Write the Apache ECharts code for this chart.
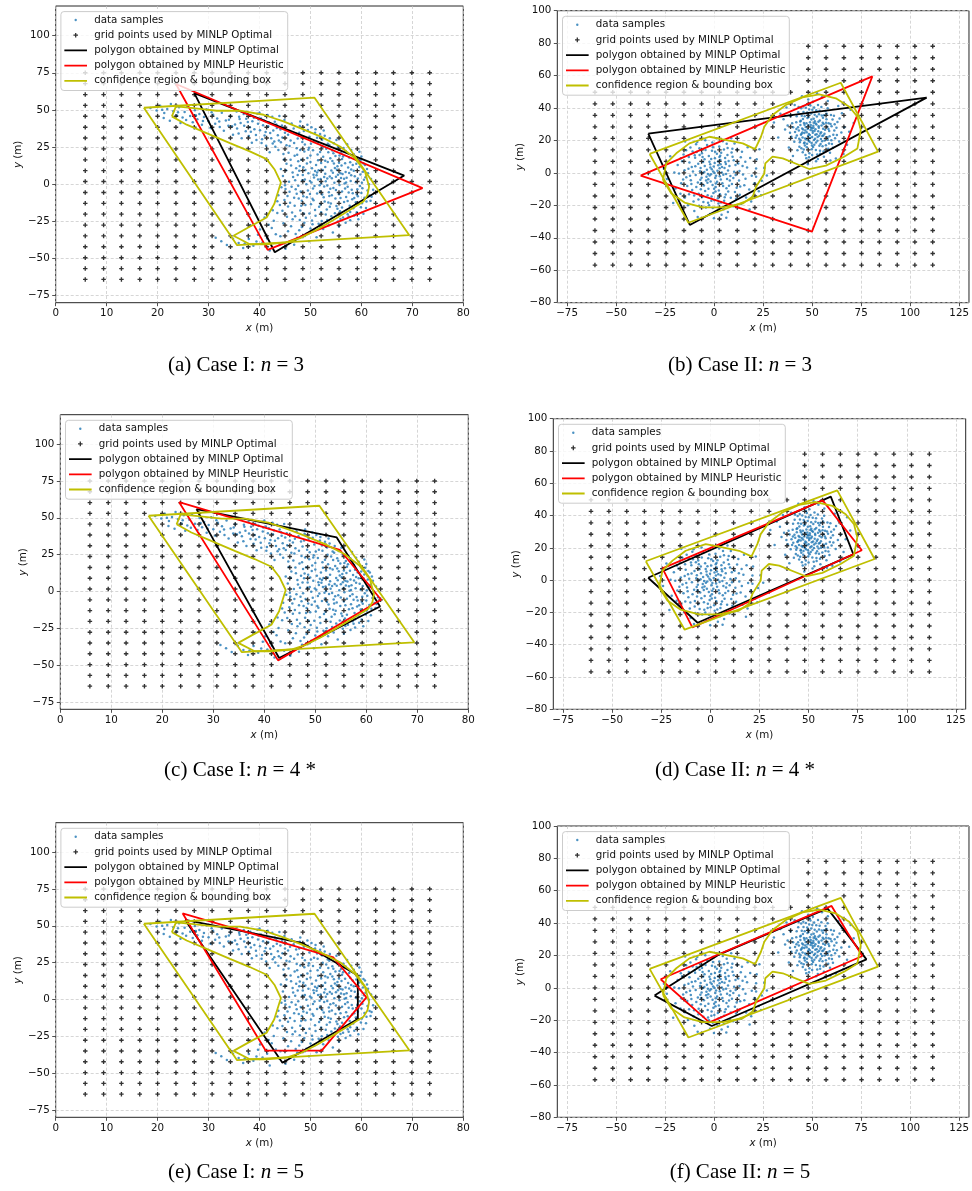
<!DOCTYPE html>
<html>
<head>
<meta charset="utf-8">
<script src="https://cdn.jsdelivr.net/npm/echarts@6/dist/echarts.min.js"></script>
<style>
html,body{margin:0;padding:0;background:#fff;}
#chart{width:972px;height:1191px;}
</style>
</head>
<body>
<div id="chart"></div>
<script>
// ---------- Case I: data samples (m) ----------
const samplesCaseI = [
[18.6,51.2],[19.8,49.5],[20.5,52.8],[21.3,47.9],[21.9,50.6],[22.6,53.9],[23.1,49.1],[23.8,46.2],[24.2,51.7],[24.9,44.8],
[25.3,48.6],[25.8,52.3],[26.4,45.9],[26.9,41.7],[27.3,49.8],[27.8,43.6],[28.2,47.2],[28.7,39.9],[29.1,45.1],[29.6,50.4],
[30.0,42.3],[30.4,37.8],[30.9,46.7],[31.3,40.6],[31.7,44.2],[32.2,38.4],[32.6,48.1],[33.0,35.9],[33.4,42.8],[33.9,39.3],
[22.4,42.6],[24.5,41.2],[21.2,44.5],[35.5,48.9],[39.6,47.3],
[34.3,45.6],[34.8,33.2],[35.2,40.1],[35.6,37.4],[36.1,43.9],[36.5,30.8],[36.9,47.2],[37.3,35.6],[37.7,41.8],[38.1,38.3],
[38.5,27.9],[38.9,44.6],[39.3,33.1],[39.7,40.7],[40.1,36.2],[40.5,30.1],[40.9,42.9],[41.3,25.8],[41.7,38.9],[42.1,34.4],
[42.5,45.3],[42.9,28.6],[43.3,40.2],[43.7,22.9],[44.1,36.7],[44.5,31.4],[44.9,43.1],[45.3,26.2],[34.6,38.9],[35.9,34.1],
[37.0,39.3],[38.2,46.0],[39.4,29.6],[40.3,44.1],[41.0,32.7],[41.9,41.4],[42.7,36.1],[43.6,32.8],[44.4,39.5],[36.3,41.2],
[37.9,32.4],[39.0,37.0],[40.7,39.6],[42.3,30.9],[43.9,45.8],[45.0,34.6],[38.6,42.3],[40.0,48.1],[41.6,46.6],[43.1,25.1],
[46.2,12.4],[47.1,-3.6],[47.8,8.9],[48.3,-11.2],[48.9,3.1],[49.4,17.6],[49.9,-6.8],[50.3,10.7],[50.8,-1.4],[51.2,5.9],
[51.7,-15.3],[52.1,14.2],[52.6,-8.9],[53.0,1.8],[53.5,21.4],[53.9,-3.2],[54.4,7.6],[54.8,-19.7],[55.3,11.9],[55.7,-0.6],
[56.2,16.8],[56.6,-12.1],[57.1,4.3],[57.5,-5.7],[58.0,9.8],[58.4,-16.4],[58.9,1.2],[59.3,-8.3],[59.8,6.4],[60.2,-2.9],
[45.5,-8.1],[46.6,4.7],[47.4,19.8],[48.0,-17.9],[48.6,11.3],[49.2,-0.2],[49.7,24.5],[50.1,-13.6],[50.6,6.3],[51.0,-21.4],
[51.5,16.1],[51.9,-4.8],[52.4,9.4],[52.8,-11.7],[53.3,3.7],[53.7,26.3],[54.2,-7.5],[54.6,13.8],[55.1,-14.9],[55.5,2.2],
[56.0,20.7],[56.4,-22.6],[56.9,8.1],[57.3,-1.9],[57.8,14.7],[58.2,-10.2],[58.7,5.3],[59.1,-19.1],[59.6,11.5],[60.0,-6.1],
[60.5,2.9],[61.0,-11.8],[45.8,1.6],[46.9,-14.7],[47.6,15.3],[48.1,-5.1],[48.8,21.9],[49.6,7.2],[50.4,-9.9],[51.1,12.8],
[51.8,-0.9],[52.5,18.4],[53.2,-17.2],[53.8,5.1],[54.5,-2.6],[55.2,9.6],[55.9,-9.4],[56.7,0.4],[57.4,11.1],[58.1,-3.8],
[58.8,17.2],[59.5,-13.4],[60.3,8.2],[61.2,-4.4],[46.4,-19.2],[47.3,24.1],[48.4,28.3],[49.1,-22.8],[50.0,19.3],[50.9,-17.5],
[51.4,27.7],[52.2,-24.9],[53.1,23.8],[54.0,-13.1],[54.9,18.9],[55.8,-18.3],[56.5,24.2],[57.7,-14.6],[58.5,20.1],[59.4,-23.7],
[60.7,12.9],[61.5,-0.2],[45.2,9.3],[46.0,-12.6],[47.0,2.5],[47.9,-24.3],[48.5,6.1],[49.3,13.9],[50.2,1.1],[51.3,-6.4],
[52.0,3.3],[52.9,11.4],[53.6,-5.5],[54.3,15.6],[55.0,4.9],[55.6,-6.9],[56.3,6.8],[57.0,-8.7],[57.9,2.1],[58.6,-21.2],
[59.9,-15.7],[60.6,-9.2],[44.8,16.6],[45.1,-3.4],[44.6,5.4],[45.7,21.1],[46.8,27.6],[47.7,-9.8],[48.2,16.4],[49.0,-14.1],
[50.5,22.8],[51.6,-26.7],[52.7,-1.7],[53.4,14.9],[54.1,-21.8],[54.7,0.9],[55.4,-25.3],[56.1,12.5],[56.8,-3.1],[57.6,7.4],
[58.3,-6.2],[59.0,13.6],[59.7,-1.3],[60.8,4.6],[61.6,-7.8],
[46.5,7.8],[47.6,-1.2],[48.4,2.6],[49.5,-4.3],[50.7,4.4],[51.6,9.2],[52.3,-7.1],[53.3,-1.0],[54.2,3.9],[55.0,-4.1],
[55.9,7.3],[56.6,3.5],[57.3,-11.4],[58.0,5.9],[59.2,-3.6],[60.1,0.8],[49.8,-19.8],[51.9,21.6],[53.9,17.3],[56.2,-15.8],
[47.2,10.6],[50.0,14.9],[52.9,7.0],[54.8,10.8],[57.6,17.9],[58.9,-12.3],[48.6,-8.2],[45.9,-5.2],[46.1,16.3],[61.9,3.4],
[62.3,-3.9],[60.9,-16.1],[50.3,-24.6],[53.0,-20.6],[55.7,19.3],[59.6,21.7],[48.8,-26.1],[44.9,-10.8],[47.0,-21.7],[52.1,0.3],
[45.6,33.2],[46.7,37.4],[47.5,30.6],[48.7,35.8],[49.8,31.9],[50.7,28.4],[51.9,33.7],[52.3,29.8],[53.8,30.9],[54.6,27.5],
[55.4,24.9],[56.9,22.3],[57.2,26.8],[46.3,40.8],[47.9,39.1],[49.5,36.4],[50.9,34.6],[52.8,32.5],[44.2,28.1],[45.9,25.7],
[47.2,33.9],[48.9,26.6],[51.3,31.2],[43.4,37.8],[42.6,27.3],[46.1,29.4],[48.0,42.1],[50.2,38.3],
[44.7,-26.4],[45.6,-31.8],[46.5,-23.7],[47.4,-36.2],[48.3,-28.9],[49.2,-33.5],[50.4,-27.1],[51.2,-35.8],[52.5,-30.4],[53.6,-27.8],
[54.4,-32.6],[55.6,-28.7],[56.9,-26.1],[57.8,-24.5],[43.2,-33.9],[42.4,-29.7],[41.5,-36.8],[40.6,-39.4],[39.7,-34.2],[38.8,-41.6],
[37.9,-37.1],[36.8,-43.2],[35.9,-39.8],[34.8,-36.9],[33.6,-41.1],[32.5,-38.6],[31.4,-36.3],[42.0,-44.8],[40.1,-30.6],[43.9,-40.3],
[45.1,-43.6],[46.8,-40.9],[38.2,-27.8],[41.0,-22.5],[43.5,-19.6],[42.8,-24.8],[44.0,-14.2],[43.7,-7.6],[44.3,-2.2],[45.4,-22.1],
[46.2,-28.4],[47.8,-31.2],[49.7,-38.6],[50.8,-31.1],
[46.3,-1.9],[47.5,6.0],[48.2,-14.6],[49.0,9.5],[49.9,2.0],[50.6,-11.0],[51.4,19.9],[52.1,-19.0],[52.7,4.8],[53.5,-12.4],
[54.1,9.1],[54.9,-9.8],[55.6,14.3],[56.2,-5.0],[57.0,1.0],[57.8,-18.8],[58.5,9.0],[59.3,3.7],[60.1,-12.9],[61.3,7.2],
[45.3,13.6],[46.8,-9.3],[47.9,12.2],[48.7,-19.9],[49.6,23.1],[50.5,-3.1],[51.3,7.8],[52.0,-13.8],[52.9,15.7],[53.7,-8.1],
[54.5,20.8],[55.3,-16.6],[56.0,4.0],[56.8,14.0],[57.5,-21.9],[58.3,12.8],[59.1,-7.0],[59.8,16.1],[60.4,-20.1],[61.8,-11.3],
[44.5,-18.1],[45.6,-15.1],[46.9,19.0],[48.0,23.0],[50.1,27.1],[52.4,25.0],[54.3,22.6],[56.4,18.5],[58.0,22.9],[60.0,18.6],
[46.0,35.7],[47.8,34.6],[49.4,40.0],[51.0,36.9],[52.6,36.0],[53.4,27.2],[55.1,29.7],[43.0,42.0],[41.2,35.0],[39.8,43.5],
[37.4,44.0],[36.0,45.3],[34.0,43.4],[32.1,42.1],[30.6,48.3],[28.9,42.5],[27.5,46.4],[25.6,43.2],[24.0,48.4],[20.9,50.1],
[38.3,35.2],[40.4,27.7],[42.0,21.4],[43.8,29.4],[44.7,20.3],[45.0,-0.8],[44.2,10.1],[43.5,-11.6],[42.6,-17.6],[41.8,-27.5],
[39.4,-38.7],[37.1,-40.1],[44.1,-35.2],[47.1,-33.7],[48.9,-35.1],[50.0,-29.9],[51.8,-28.2],[53.3,-24.2],[55.9,-23.5],[57.3,-20.3],
[61.1,10.2],[60.4,13.9],[62.0,-8.5],[58.6,-9.4],[50.9,8.7],[49.3,-9.0],[53.8,-15.4],[47.3,-6.6],[55.4,6.2],[51.5,3.0]
];

// ---------- Case II: data samples (m) ----------
const samplesCaseII = [
[-1.2,2.3],[3.4,-4.1],[-5.6,6.8],[7.1,1.5],[0.8,-8.7],[-3.9,-2.4],[5.6,9.2],[-8.3,-5.9],[2.1,4.7],[-0.4,-12.3],
[9.8,-3.2],[-11.4,3.6],[4.7,-1.1],[-2.7,10.4],[1.9,-15.6],[-6.8,-10.1],[12.3,5.8],[-14.2,-2.7],[6.3,-9.4],[-4.4,14.1],
[8.9,12.6],[-9.7,9.3],[0.3,6.1],[-1.8,-5.3],[3.9,0.2],[-7.2,1.1],[10.6,-11.7],[-12.8,-13.2],[2.6,16.3],[-3.1,-18.4],
[14.7,-0.9],[-16.3,7.2],[5.1,-17.2],[-0.9,18.7],[11.2,-15.9],[-10.5,-17.6],[7.8,4.2],[-5.2,-7.7],[1.4,11.8],[-2.3,-1.6],
[4.2,-6.3],[-8.9,12.9],[13.6,9.7],[-13.7,-8.1],[6.9,15.4],[-6.1,-14.8],[0.6,-3.2],[-4.8,4.3],[9.1,-6.8],[-11.9,-4.5],
[3.2,7.9],[-0.7,-21.6],[16.8,3.4],[-17.9,-0.3],[5.9,-13.3],[-3.6,17.2],[10.2,0.7],[-9.4,-1.3],[2.4,-10.9],[-1.5,8.6],
[15.4,-7.6],[-15.6,11.4],[8.1,-19.8],[-7.7,-20.3],[4.4,19.6],[-5.9,9.8],[11.8,14.3],[-12.1,15.7],[0.1,-16.8],[-2.9,-9.8],
[6.6,-3.7],[-8.1,5.6],[1.7,1.4],[-4.1,-4.6],[3.6,12.4],[-10.8,0.9],[13.1,-13.4],[-14.9,-15.1],[7.4,7.3],[-6.4,-2.9],
[0.9,-6.5],[-1.1,13.6],[9.4,9.9],[-9.1,-8.7],[17.9,-10.2],[-18.6,4.9],[5.3,3.1],[-3.3,-13.7],[2.9,-2.1],[-0.2,4.0],
[12.7,-4.7],[-7.5,15.2],[4.9,-22.4],[-11.2,-10.6],[8.5,-15.3],[-5.5,-17.9],[1.2,21.3],[-2.1,-25.3],[15.9,6.9],[-16.8,-6.4],
[6.1,-0.6],[-6.9,3.0],[3.0,-13.1],[-1.6,-0.8],[10.9,4.9],[-12.6,6.5],[0.4,9.1],[-4.6,-11.2],[7.6,-7.9],[-9.9,10.9],
[19.2,-1.8],[-19.7,-9.6],[2.2,-18.9],[-3.7,1.9],[14.2,13.1],[-13.4,-19.9],[5.7,6.7],[-7.9,-12.9],[1.0,-1.7],[-0.6,15.9],
[9.7,-20.6],[-10.1,-23.4],[4.0,3.6],[-5.0,0.5],[11.5,-9.1],[-8.6,19.1],[3.8,-25.8],[-2.4,6.9],[6.8,11.0],[-6.2,12.2],
[16.3,-15.2],[-15.1,1.7],[0.7,-11.4],[-1.9,3.3],[8.3,-1.9],[-11.6,-6.9],[2.7,9.8],[-4.2,-21.3],[12.9,1.2],[-14.3,13.9],
[7.2,-11.5],[-3.4,-6.1],[18.4,9.2],[-20.3,0.2],[5.0,14.5],[-7.0,-4.2],[0.2,-0.1],[-1.3,-14.6],[20.6,-6.3],[-17.2,-12.8],
[10.4,18.1],[-9.2,17.6],[3.3,5.4],[-0.1,-27.9],[-12.9,9.8],[13.8,-19.1],[21.4,2.8],
[-22.4,10.3],[-24.1,-3.7],[-20.9,-18.5],[18.1,-22.6],[-8.4,-27.2],[6.2,-27.6],[-14.8,19.4],[8.7,21.4],[-25.6,2.6],[23.9,-13.7],
[22.8,-11.3],[24.3,-4.8],[18.9,-17.6],[21.7,8.4],[25.6,3.1],[17.1,15.8],[23.1,14.6],[26.9,-1.6],[19.7,-14.6],[21.4,-2.3],
[-0.5,0.9],[2.8,2.9],[-3.2,-0.6],[1.5,-5.4],[-2.0,5.3],[4.6,-8.1],[-6.6,-6.3],[6.0,5.5],[-4.9,8.4],[0.0,-9.8],
[8.0,-4.6],[-9.6,4.1],[3.1,10.6],[-1.4,-17.2],[11.0,-1.3],[-12.3,-1.8],[5.4,-15.0],[-7.4,11.1],[9.3,14.9],[-10.2,-13.9],
[1.8,-23.5],[-4.5,20.2],[13.3,-8.3],[-15.8,-4.1],[7.0,-24.1],[-8.0,-16.4],[14.5,4.3],[-13.1,2.5],[-2.6,-20.0],[0.5,13.0],
[10.0,7.8],[-6.0,-0.2],[3.5,-18.2],[-11.0,13.2],[16.0,-3.6],[-17.0,9.0],[6.4,18.0],[-3.0,-3.9],[2.0,7.0],[-0.8,-7.4],
[49.2,26.4],[52.8,22.1],[46.1,29.7],[55.6,27.3],[48.7,19.2],[51.4,31.8],[44.3,23.6],[57.9,20.4],[50.3,24.8],[47.6,33.9],
[53.7,16.7],[42.8,28.1],[59.4,30.2],[45.9,18.3],[54.9,35.4],[49.8,14.6],[56.3,24.1],[41.6,21.7],[52.1,38.6],[47.2,25.1],
[60.8,23.6],[44.7,35.2],[50.9,20.3],[48.1,29.4],[58.2,14.9],[43.5,16.2],[53.3,28.7],[46.8,40.1],[55.1,19.6],[51.7,26.9],
[39.8,30.6],[62.4,27.8],[49.5,36.7],[45.2,12.8],[57.3,33.1],[52.6,11.4],[47.9,22.7],[54.2,24.3],[42.1,34.9],[60.1,17.8],
[50.6,29.1],[44.9,27.4],[56.8,38.2],[48.4,9.7],[53.9,32.3],[46.4,21.2],[58.7,25.9],[41.3,25.3],[51.1,17.4],[49.1,41.6],
[55.8,13.2],[43.9,31.7],[61.7,21.4],[47.3,15.8],[52.4,34.8],[45.6,37.6],[59.6,35.7],[50.0,22.2],[54.5,20.9],[48.9,31.3],
[38.7,24.8],[63.8,19.3],[46.0,24.6],[57.6,28.4],[52.9,8.6],[44.1,20.1],[55.4,31.0],[50.4,43.9],[42.5,13.9],[60.4,32.9],
[48.3,24.0],[53.1,25.7],[46.7,28.3],[51.9,14.1],[57.0,17.1],[45.3,33.3],[49.7,18.5],[54.7,40.6],[40.9,19.2],[58.9,22.6],
[47.5,37.3],[52.2,29.9],[43.2,26.2],[56.0,9.9],[50.8,33.4],[44.4,39.8],[61.3,26.2],[48.6,12.1],[53.5,36.1],[46.3,16.9],
[55.2,22.7],[49.4,28.0],[42.9,37.4],[59.1,12.4],[51.6,23.5],[45.8,30.8],[57.4,36.4],[47.0,20.6],[54.0,13.7],[50.1,38.9],
[37.5,29.3],[64.9,24.9],[52.7,19.9],[44.6,24.1],[58.4,30.6],[48.0,45.2],[53.6,22.9],[46.6,11.1],[55.5,34.0],[49.9,27.6],
[41.9,31.2],[60.6,15.5],[51.3,35.9],[45.1,21.8],[56.6,26.6],[48.2,34.5],[54.3,17.9],[43.7,18.9],[59.9,28.8],[50.5,16.0],
[47.7,27.0],[53.0,41.9],[45.4,26.8],[57.7,22.0],[51.8,30.5],[39.4,22.3],[62.9,31.4],[49.0,21.6],[54.8,29.3],[46.2,35.0],
[52.0,7.2],[44.0,29.6],[58.6,18.1],[50.7,27.8],[48.5,39.1],[55.9,30.1],[42.2,23.1],[61.1,35.3],[47.4,18.0],[53.2,31.6],
[45.7,14.5],[56.4,20.0],[49.6,33.0],[51.2,25.9],[66.4,28.1],[36.2,26.7],[67.8,17.4],[65.2,36.8],[35.4,33.1],[38.1,15.7],
[63.3,41.2],[41.1,41.8],[58.0,44.3],[44.8,47.3],[52.5,49.1],[33.8,36.4],[68.9,25.4],[66.0,11.6],[40.2,10.4],[59.3,7.6],
[47.8,5.3],[36.9,40.3],[71.2,30.7],[62.1,8.9],[55.0,46.7],[30.5,31.1],[32.7,21.8],[69.6,38.9],
[50.2,26.0],[48.8,23.3],[51.5,21.0],[47.1,30.6],[53.4,27.9],[46.5,26.1],[52.3,23.9],[49.3,29.5],[54.6,25.1],[45.0,24.9],
[50.9,31.0],[48.2,19.9],[55.7,23.0],[47.9,36.0],[52.0,18.7],[44.2,32.2],[57.1,30.9],[49.9,16.9],[43.4,21.0],[56.1,35.6],
[51.0,40.4],[46.1,18.7],[58.3,27.1],[42.0,27.0],[53.8,38.3],[48.7,42.8],[59.8,20.2],[45.5,40.9],[54.1,11.8],[62.6,23.3],
[40.3,28.2],[50.0,11.0],[57.9,39.9],[44.5,15.2],[61.5,30.0],[47.0,9.0],[39.0,34.9],[64.0,33.6],[55.3,16.4],[43.1,40.7]
];

// ---------- grid points used by MINLP Optimal ----------
const gridXCaseI = [5.8, 9.4, 12.9, 16.5, 20.0, 23.6, 27.2, 30.7, 34.3, 37.8, 41.4, 45.0, 48.5, 52.1, 55.6, 59.2, 62.8, 66.3, 69.9, 73.4];
const gridYCaseI = [75.0, 67.7, 60.3, 53.0, 45.7, 38.3, 31.0, 23.7, 16.3, 9.0, 1.7, -5.7, -13.0, -20.3, -27.7, -35.0, -42.3, -49.7, -57.0, -64.3];
const gridXCaseII = [-60.8, -51.7, -42.6, -33.6, -24.5, -15.4, -6.4, 2.7, 11.8, 20.8, 29.9, 39.0, 48.0, 57.1, 66.2, 75.2, 84.3, 93.4, 102.4, 111.5];
const gridYCaseIILower = [49.7, 42.6, 35.5, 28.4, 21.3, 14.2, 7.1, 0.0, -7.1, -14.2, -21.3, -28.4, -35.5, -42.6, -49.7, -56.8];
const gridXCaseIIUpper = [48.0, 57.1, 66.2, 75.2, 84.3, 93.4, 102.4, 111.5];
const gridYCaseIIUpper = [78.1, 71.0, 63.9, 56.8];

// ---------- confidence regions and bounding boxes ----------
const confidenceCaseI = [[22.8,45.6],[23.6,52.3],[27.0,51.2],[31.6,49.4],[36.2,49.4],[40.8,46.7],[44.7,42.2],[48.0,37.7],[51.9,32.1],[55.8,25.3],[58.7,17.5],[60.7,8.5],[61.5,-1.7],[61.2,-7.3],[60.4,-11.8],[57.8,-17.4],[54.5,-24.2],[51.2,-30.9],[48.0,-36.5],[45.3,-39.4],[41.4,-40.6],[38.1,-40.6],[34.9,-34.9],[37.8,-29.3],[41.4,-22.6],[42.9,-13.4],[44.2,1.0],[43.0,9.6],[41.4,16.8],[38.1,22.0],[34.2,27.6],[29.6,34.3],[25.7,40.0],[22.8,45.6]];
const boxCaseI = [[17.3,51.4],[50.8,58.2],[69.4,-34.5],[35.6,-41.2],[17.3,51.4]];
const confidenceCaseII = [[-26.1,-4.4],[-24.4,5.9],[-19.3,12.1],[-12.6,18.2],[-2.4,22.3],[4.4,20.7],[14.6,18.2],[20.9,14.7],[23.9,22.3],[25.6,28.5],[29.8,35.7],[36.6,41.9],[45.1,46.6],[53.6,48.4],[62.1,46.0],[68.9,40.8],[73.1,34.7],[74.8,26.5],[73.1,15.1],[66.3,10.0],[57.0,4.5],[48.5,2.4],[43.4,4.9],[35.0,9.0],[29.8,10.0],[26.1,5.9],[25.6,-0.3],[21.4,-8.5],[19.7,-14.6],[14.6,-18.8],[4.4,-21.2],[-5.8,-21.2],[-15.1,-18.3],[-21.9,-12.6],[-26.1,-4.4]];
const boxCaseII = [[-32.9,11.7],[64.6,55.6],[83.6,13.1],[-13.1,-30.7],[-32.9,11.7]];

// ---------- polygon vertices ----------
const optimalA = [[27.2,61.3],[68.4,5.7],[43.0,-46.0]];
const heuristicA = [[23.6,67.4],[72.0,-2.8],[41.6,-44.4]];
const optimalB = [[-33.6,24.2],[108.4,46.4],[-12.4,-32.1]];
const heuristicB = [[-37.5,-1.7],[80.7,59.5],[49.9,-36.2]];
const optimalC = [[26.7,55.9],[54.2,36.7],[62.7,-10.2],[42.9,-45.2]];
const heuristicC = [[23.3,60.6],[54.8,28.3],[62.9,-5.6],[42.7,-46.8]];
const optimalD = [[-31.7,1.5],[61.3,51.7],[72.8,16.0],[-6.5,-26.4]];
const heuristicD = [[-24.4,7.3],[57.2,49.4],[77.1,18.5],[-9.2,-29.3]];
const optimalE = [[25.4,54.0],[48.5,38.2],[59.3,16.3],[59.3,-13.2],[44.5,-43.0]];
const heuristicE = [[24.9,58.5],[54.5,28.5],[61.0,1.4],[52.2,-34.7],[41.2,-34.7]];
const optimalF = [[-30.4,-4.8],[2.7,20.7],[57.8,49.1],[77.7,17.6],[-1.2,-23.6]];
const heuristicF = [[-27.3,5.3],[59.9,50.6],[68.0,34.2],[75.6,19.7],[-2.4,-21.3]];

// ---------- axis ticks ----------
const xTicksCaseI = [0, 10, 20, 30, 40, 50, 60, 70, 80];
const yTicksCaseI = [-75, -50, -25, 0, 25, 50, 75, 100];
const xTicksCaseII = [-75, -50, -25, 0, 25, 50, 75, 100, 125];
const yTicksCaseII = [-80, -60, -40, -20, 0, 20, 40, 60, 80, 100];

// ---------- captions ----------
const captionPrefix = ['(a) Case I: ', '(b) Case II: ', '(c) Case I: ', '(d) Case II: ', '(e) Case I: ', '(f) Case II: '];
const captionValue = ['3', '3', '4 *', '4 *', '5', '5'];

const legendNames = ['data samples', 'grid points used by MINLP Optimal', 'polygon obtained by MINLP Optimal', 'polygon obtained by MINLP Heuristic', 'confidence region & bounding box'];

// ---------- build ----------
function lattice(xs, ys) {
  const pts = [];
  ys.forEach(y => xs.forEach(x => pts.push([x, y])));
  return pts;
}
function closed(poly) { return poly.concat([poly[0]]); }

const gridPtsCaseI = lattice(gridXCaseI, gridYCaseI);
const gridPtsCaseII = lattice(gridXCaseIIUpper, gridYCaseIIUpper).concat(lattice(gridXCaseII, gridYCaseIILower));

// layout of the six panels: plot rectangle [left, top, width, height], caption centre
const layout = [
  { rect: [55.7, 6, 407.6, 296.7], cap: [236, 365] },
  { rect: [557.3, 10.7, 413, 292], cap: [740, 365] },
  { rect: [60.3, 414.7, 408, 294.6], cap: [240, 770] },
  { rect: [553.3, 418.7, 412.4, 290.6], cap: [735, 770] },
  { rect: [55.7, 822.7, 407.6, 294.6], cap: [236, 1172] },
  { rect: [557.3, 826, 413, 291.3], cap: [740, 1172] }
];
const panelCase = [1, 2, 1, 2, 1, 2];
const panelOptimal = [optimalA, optimalB, optimalC, optimalD, optimalE, optimalF];
const panelHeuristic = [heuristicA, heuristicB, heuristicC, heuristicD, heuristicE, heuristicF];

const FONT = 'DejaVu Sans';
const TXT = '#111111';
const LW = 1.8;
const fmtMinus = v => String(v).replace('-', '\u2212');

function svgIcon(inner) {
  return 'image://data:image/svg+xml;charset=utf-8,' + encodeURIComponent(
    "<svg xmlns='http://www.w3.org/2000/svg' width='23' height='12' viewBox='0 0 23 12'>" + inner + "</svg>");
}
const legendIcons = [
  svgIcon("<circle cx='11.5' cy='6' r='1.2' fill='#1f77b4'/>"),
  svgIcon("<path d='M9.2 6H13.8M11.5 3.7V8.3' stroke='#000' stroke-width='1.3'/>"),
  svgIcon("<line x1='0' y1='6' x2='23' y2='6' stroke='#000' stroke-width='" + LW + "'/>"),
  svgIcon("<line x1='0' y1='6' x2='23' y2='6' stroke='#ff0000' stroke-width='" + LW + "'/>"),
  svgIcon("<line x1='0' y1='6' x2='23' y2='6' stroke='#bfbf00' stroke-width='" + LW + "'/>")
];
const plusSymbol = 'path://M0,2.1H6V3.9H0ZM2.1,0H3.9V6H2.1Z';

const grids = [], xAxes = [], yAxes = [], legends = [], series = [], graphics = [];

layout.forEach((p, i) => {
  const c1 = panelCase[i] === 1;
  grids.push({
    left: p.rect[0], top: p.rect[1], width: p.rect[2], height: p.rect[3],
    show: true, borderColor: '#262626', borderWidth: 1, backgroundColor: '#fff'
  });
  const axisBase = {
    gridIndex: i, type: 'value',
    axisLine: { show: false, onZero: false },
    axisTick: { show: true, length: 3.5, lineStyle: { color: '#262626', width: 0.8 } },
    axisLabel: { fontFamily: FONT, fontSize: 10.3, color: TXT, margin: 6, formatter: fmtMinus },
    splitLine: { show: true, lineStyle: { color: '#c4c4c4', width: 0.7, type: [3, 2] } },
    nameLocation: 'middle',
    nameTextStyle: { fontFamily: FONT, fontSize: 10.3, color: TXT,
      rich: { i: { fontFamily: FONT, fontSize: 10.3, fontStyle: 'italic', color: TXT } } }
  };
  const xTicks = c1 ? xTicksCaseI : xTicksCaseII;
  const yTicks = c1 ? yTicksCaseI : yTicksCaseII;
  xAxes.push(Object.assign({}, axisBase, {
    min: c1 ? 0 : -80, max: c1 ? 80 : 130,
    axisTick: Object.assign({}, axisBase.axisTick, { customValues: xTicks }),
    axisLabel: Object.assign({}, axisBase.axisLabel, { customValues: xTicks }),
    name: '{i|x} (m)', nameGap: 21
  }));
  yAxes.push(Object.assign({}, axisBase, {
    min: -80, max: c1 ? 120 : 100,
    axisTick: Object.assign({}, axisBase.axisTick, { customValues: yTicks }),
    axisLabel: Object.assign({}, axisBase.axisLabel, { customValues: yTicks }),
    name: '{i|y} (m)', nameGap: 32
  }));

  legends.push({
    left: p.rect[0] + 5.2, top: p.rect[1] + 5.6,
    orient: 'vertical', selectedMode: false,
    itemWidth: 23, itemHeight: 12, itemGap: 3.2,
    padding: [2.4, 4, 3.7, 3.3],
    backgroundColor: 'rgba(255,255,255,0.8)', borderColor: '#cccccc', borderWidth: 1, borderRadius: 3,
    textStyle: { fontFamily: FONT, fontSize: 10.3, color: TXT, lineHeight: 12, padding: [0, 0, 0, 2] },
    data: legendNames.map((n, k) => ({ name: n, icon: legendIcons[k] })),
    z: 10
  });

  const ax = { xAxisIndex: i, yAxisIndex: i, silent: true, animation: false };
  series.push(Object.assign({
    type: 'scatter', name: legendNames[0], data: c1 ? samplesCaseI : samplesCaseII,
    symbol: 'circle', symbolSize: 2.5, itemStyle: { color: '#1f77b4' }, z: 2
  }, ax));
  series.push(Object.assign({
    type: 'scatter', name: legendNames[1], data: c1 ? gridPtsCaseI : gridPtsCaseII,
    symbol: plusSymbol, symbolSize: 4.5, itemStyle: { color: '#000' }, z: 3
  }, ax));
  const lineSeries = (name, data, color) => Object.assign({
    type: 'line', name: name, data: data, symbol: 'none', showSymbol: false,
    lineStyle: { color: color, width: LW }, itemStyle: { color: color }, z: 4
  }, ax);
  series.push(lineSeries(legendNames[2], closed(panelOptimal[i]), '#000000'));
  series.push(lineSeries(legendNames[3], closed(panelHeuristic[i]), '#ff0000'));
  series.push(lineSeries(legendNames[4], c1 ? confidenceCaseI : confidenceCaseII, '#bfbf00'));
  series.push(lineSeries(legendNames[4], c1 ? boxCaseI : boxCaseII, '#bfbf00'));

  graphics.push({
    type: 'text', x: p.cap[0], y: p.cap[1],
    style: {
      text: '{p|' + captionPrefix[i] + '}{i|n}{p| = ' + captionValue[i] + '}',
      align: 'center', verticalAlign: 'middle',
      rich: {
        p: { fontFamily: 'Liberation Serif', fontSize: 21, fill: '#000' },
        i: { fontFamily: 'Liberation Serif', fontSize: 21, fontStyle: 'italic', fill: '#000' }
      }
    }
  });
});

const chart = echarts.init(document.getElementById('chart'), null, { renderer: 'canvas' });
chart.setOption({
  animation: false,
  backgroundColor: '#fff',
  grid: grids, xAxis: xAxes, yAxis: yAxes, legend: legends, series: series,
  graphic: graphics
});
</script>
</body>
</html>
